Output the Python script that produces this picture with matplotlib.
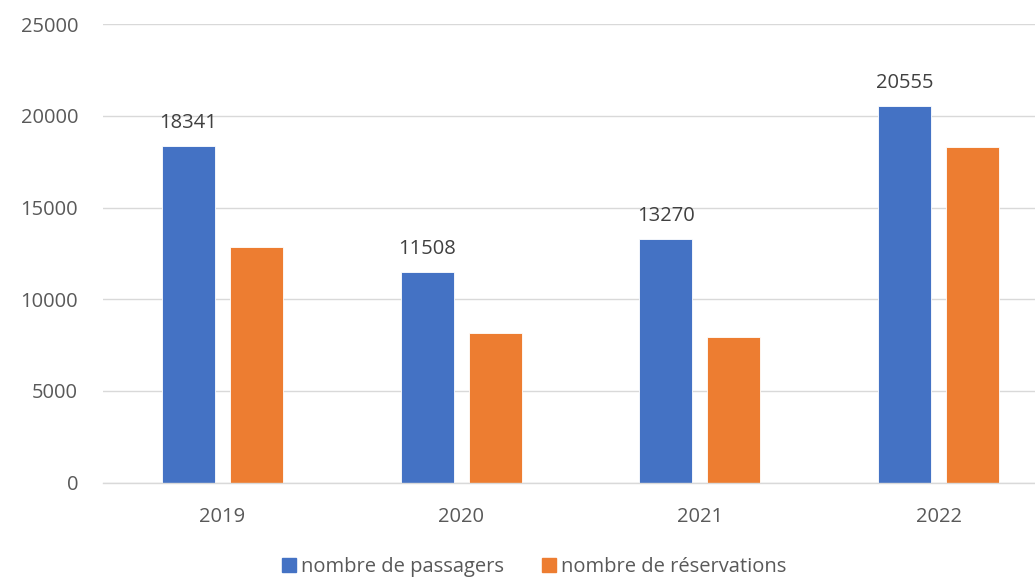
import matplotlib.pyplot as plt
import numpy as np
from matplotlib.patches import Patch

years = ["2019", "2020", "2021", "2022"]
passagers = [18341, 11508, 13270, 20555]
reservations = [12870, 8180, 7960, 18300]
series_names = ["nombre de passagers", "nombre de réservations"]
y_ticks = [0, 5000, 10000, 15000, 20000, 25000]

BLUE = "#4472c4"
ORANGE = "#ed7d31"
GRID = "#d9d9d9"
TEXT = "#595959"

plt.rcParams['font.family'] = ['Open Sans', 'DejaVu Sans']

fig = plt.figure(figsize=(10.35, 5.79), dpi=100)
ax = fig.add_axes([103 / 1035, 96.5 / 579, 955 / 1035, 458.2 / 579])

x = np.arange(len(years))
w = 0.222
off = 0.1425
bars = ax.bar(x - off, passagers, w, color=BLUE, edgecolor="white", linewidth=0.6, zorder=3)
ax.bar(x + off, reservations, w, color=ORANGE, edgecolor="white", linewidth=0.6, zorder=3)

# data labels only on the blue series
for rect, v in zip(bars, passagers):
    ax.annotate(str(v), (rect.get_x() + rect.get_width() / 2, v),
                xytext=(0, 13), textcoords="offset points",
                ha="center", va="baseline", fontsize=14.5, color="#404040")

ax.set_xlim(-0.5, len(years) - 0.5)
ax.set_ylim(0, 25000)
ax.set_yticks(y_ticks)
ax.set_yticklabels([str(t) for t in y_ticks])
ax.set_xticks(x)
ax.set_xticklabels(years)
ax.tick_params(axis="both", length=0, labelsize=14.5, labelcolor=TEXT)
ax.tick_params(axis="y", pad=18)
ax.tick_params(axis="x", pad=18)
ax.yaxis.grid(True, color=GRID, linewidth=1.0, zorder=0)
for s in ["top", "right", "left"]:
    ax.spines[s].set_visible(False)
ax.spines["bottom"].set_color(GRID)
ax.spines["bottom"].set_linewidth(1.0)
ax.spines["bottom"].set_zorder(4)

handles = [Patch(color=BLUE), Patch(color=ORANGE)]
fig.legend(handles, series_names, loc="center", bbox_to_anchor=(534 / 1035, 1 - 567 / 579),
           ncol=2, frameon=False, fontsize=14.5, labelcolor=TEXT,
           handlelength=0.7, handleheight=0.7, handletextpad=0.25, columnspacing=1.9)

fig.savefig("out.png", dpi=100)
